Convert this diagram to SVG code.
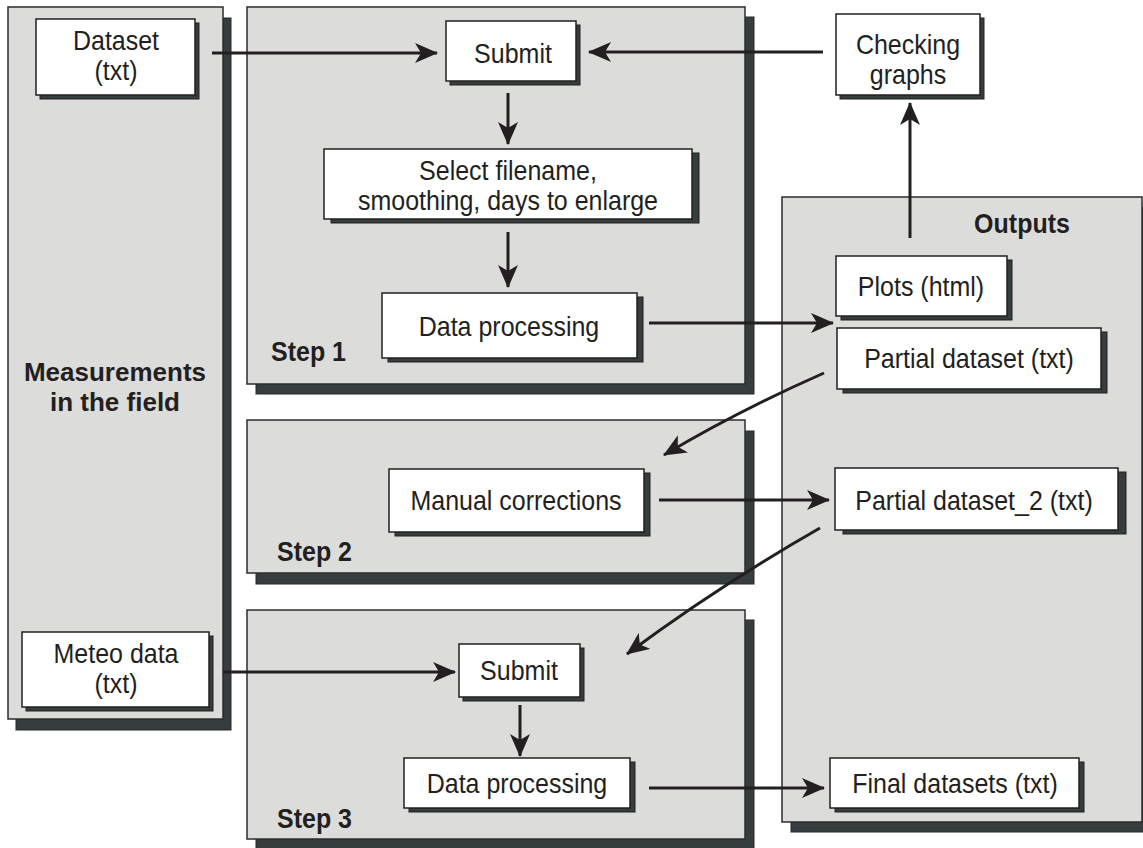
<svg xmlns="http://www.w3.org/2000/svg" width="1143" height="848" viewBox="0 0 1143 848">
  <defs>
    <style>
      .panel { fill: #DCDCDB; stroke: #2E2B2B; stroke-width: 1.5; }
      .pshadow { fill: #363D3F; stroke: #2A2A2A; stroke-width: 1; }
      .box { fill: #FFFFFF; stroke: #231F20; stroke-width: 1.5; }
      .bshadow { fill: #363D3F; stroke: #231F20; stroke-width: 1; }
      .t { font-family: "Liberation Sans", Arial, sans-serif; font-size: 25px; fill: #231F20; text-anchor: middle; }
      .b { font-family: "Liberation Sans", Arial, sans-serif; font-size: 25px; font-weight: bold; fill: #231F20; }
      .c { text-anchor: middle; }
      .link { fill: none; stroke: #231F20; stroke-width: 3; }
    </style>
    <marker id="arrow" markerUnits="userSpaceOnUse" markerWidth="24" markerHeight="20" viewBox="0 0 24 20" refX="22" refY="10" orient="auto">
      <path d="M0,0 L23,10 L0,20 L6,10 Z" fill="#231F20"/>
    </marker>
  </defs>

  <!-- panel: measurements in the field -->
  <g id="panel-field">
    <rect class="pshadow" x="16" y="18" width="215" height="712"/>
    <rect class="panel" x="8" y="7" width="215" height="712"/>
    <text class="b c" x="115" y="381" style="font-size:26px">Measurements</text>
    <text class="b c" x="115" y="411" style="font-size:26px">in the field</text>
  </g>

  <!-- panel: step 1 -->
  <g id="panel-step1">
    <rect class="pshadow" x="256" y="17" width="498" height="377"/>
    <rect class="panel" x="247" y="7" width="498" height="377"/>
    <text class="b" transform="translate(271,361) scale(1,1.1)">Step 1</text>
  </g>

  <!-- panel: step 2 -->
  <g id="panel-step2">
    <rect class="pshadow" x="256" y="431" width="498" height="153"/>
    <rect class="panel" x="247" y="420" width="498" height="153"/>
    <text class="b" transform="translate(277,561) scale(1,1.1)">Step 2</text>
  </g>

  <!-- panel: step 3 -->
  <g id="panel-step3">
    <rect class="pshadow" x="256" y="620" width="498" height="229"/>
    <rect class="panel" x="247" y="610" width="498" height="229"/>
    <text class="b" transform="translate(277,828) scale(1,1.1)">Step 3</text>
  </g>

  <!-- panel: outputs -->
  <g id="panel-outputs">
    <rect class="pshadow" x="791" y="207" width="360" height="625"/>
    <rect class="panel" x="782" y="197" width="360" height="625"/>
    <text class="b c" transform="translate(1022,233) scale(1,1.1)">Outputs</text>
  </g>

  <!-- input files -->
  <g id="node-dataset">
    <rect class="bshadow" x="40" y="23" width="159" height="76"/>
    <rect class="box" x="36" y="19" width="159" height="76"/>
    <text class="t" transform="translate(116,50) scale(1,1.1)">Dataset</text>
    <text class="t" transform="translate(116,80) scale(1,1.1)">(txt)</text>
  </g>

  <g id="node-meteo">
    <rect class="bshadow" x="26" y="636" width="187" height="75"/>
    <rect class="box" x="22" y="632" width="187" height="75"/>
    <text class="t" transform="translate(116,663) scale(1,1.1)">Meteo data</text>
    <text class="t" transform="translate(116,693) scale(1,1.1)">(txt)</text>
  </g>

  <!-- step 1 nodes -->
  <g id="node-submit1">
    <rect class="bshadow" x="450" y="25" width="130" height="60"/>
    <rect class="box" x="446" y="21" width="130" height="60"/>
    <text class="t" transform="translate(513,63) scale(1,1.1)">Submit</text>
  </g>

  <g id="node-select">
    <rect class="bshadow" x="331" y="153" width="368" height="70"/>
    <rect class="box" x="324" y="149" width="368" height="70"/>
    <text class="t" transform="translate(508,180) scale(1,1.1)">Select filename,</text>
    <text class="t" transform="translate(508,210) scale(1,1.1)">smoothing, days to enlarge</text>
  </g>

  <g id="node-process1">
    <rect class="bshadow" x="388" y="297" width="255" height="65"/>
    <rect class="box" x="382" y="293" width="255" height="65"/>
    <text class="t" transform="translate(509,336) scale(1,1.1)">Data processing</text>
  </g>

  <!-- step 2 nodes -->
  <g id="node-manual">
    <rect class="bshadow" x="395" y="473" width="255" height="63"/>
    <rect class="box" x="389" y="469" width="255" height="63"/>
    <text class="t" transform="translate(516,510) scale(1,1.1)">Manual corrections</text>
  </g>

  <!-- step 3 nodes -->
  <g id="node-submit3">
    <rect class="bshadow" x="463" y="648" width="121" height="53"/>
    <rect class="box" x="459" y="644" width="121" height="53"/>
    <text class="t" transform="translate(519,680) scale(1,1.1)">Submit</text>
  </g>

  <g id="node-process3">
    <rect class="bshadow" x="409" y="762" width="226" height="50"/>
    <rect class="box" x="404" y="758" width="226" height="50"/>
    <text class="t" transform="translate(517,793) scale(1,1.1)">Data processing</text>
  </g>

  <!-- outputs -->
  <g id="node-checking">
    <rect class="bshadow" x="840" y="18" width="144" height="81"/>
    <rect class="box" x="836" y="14" width="144" height="81"/>
    <text class="t" transform="translate(908,54) scale(1,1.1)">Checking</text>
    <text class="t" transform="translate(908,84) scale(1,1.1)">graphs</text>
  </g>

  <g id="node-plots">
    <rect class="bshadow" x="841" y="260" width="171" height="60"/>
    <rect class="box" x="836" y="256" width="171" height="60"/>
    <text class="t" transform="translate(921,296) scale(1,1.1)">Plots (html)</text>
  </g>

  <g id="node-partial">
    <rect class="bshadow" x="843" y="332" width="264" height="61"/>
    <rect class="box" x="837" y="328" width="264" height="61"/>
    <text class="t" transform="translate(969,368) scale(1,1.1)">Partial dataset (txt)</text>
  </g>

  <g id="node-partial2">
    <rect class="bshadow" x="843" y="472" width="283" height="62"/>
    <rect class="box" x="835" y="468" width="283" height="62"/>
    <text class="t" transform="translate(974,510) scale(1,1.1)">Partial dataset_2 (txt)</text>
  </g>

  <g id="node-final">
    <rect class="bshadow" x="835" y="762" width="249" height="50"/>
    <rect class="box" x="830" y="758" width="249" height="50"/>
    <text class="t" transform="translate(955,793) scale(1,1.1)">Final datasets (txt)</text>
  </g>

  <!-- connectors -->
  <g id="connectors">
    <line class="link" x1="212" y1="53" x2="437" y2="53" marker-end="url(#arrow)"/>
    <line class="link" x1="823" y1="52" x2="589" y2="52" marker-end="url(#arrow)"/>
    <line class="link" x1="508" y1="93" x2="508" y2="144" marker-end="url(#arrow)"/>
    <line class="link" x1="508" y1="232" x2="508" y2="287" marker-end="url(#arrow)"/>
    <line class="link" x1="649" y1="323" x2="833" y2="323" marker-end="url(#arrow)"/>
    <line class="link" x1="910" y1="238" x2="910" y2="103" marker-end="url(#arrow)"/>
    <path class="link" d="M824,373 Q740,410 664,455" marker-end="url(#arrow)"/>
    <line class="link" x1="659" y1="500" x2="829" y2="500" marker-end="url(#arrow)"/>
    <path class="link" d="M820,528 Q720,585 627,654" marker-end="url(#arrow)"/>
    <line class="link" x1="223" y1="672" x2="455" y2="672" marker-end="url(#arrow)"/>
    <line class="link" x1="520" y1="705" x2="520" y2="756" marker-end="url(#arrow)"/>
    <line class="link" x1="649" y1="788" x2="824" y2="788" marker-end="url(#arrow)"/>
  </g>
</svg>
